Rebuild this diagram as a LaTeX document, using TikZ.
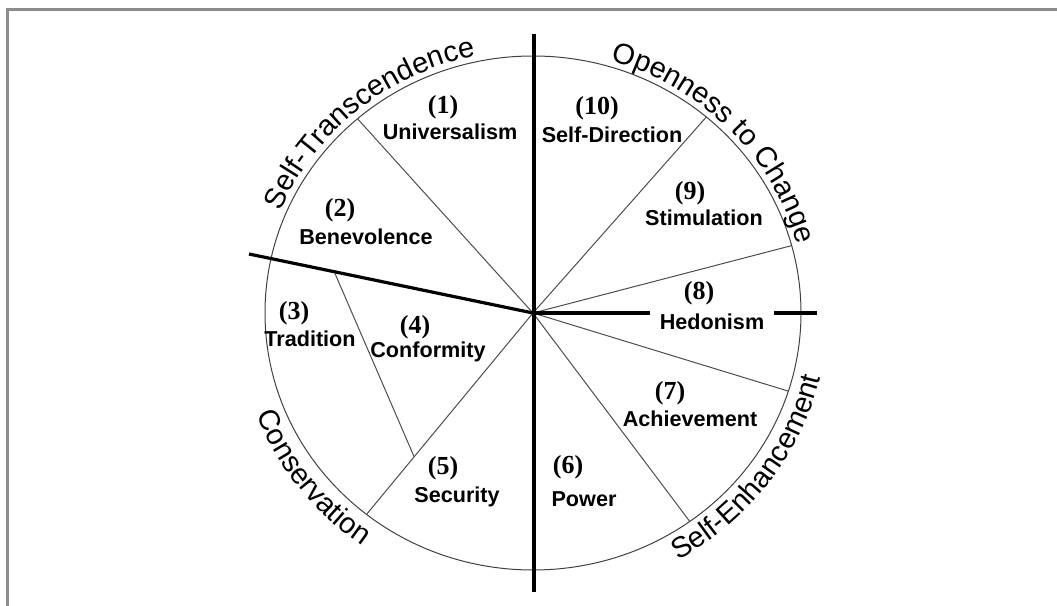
\documentclass[tikz,border=0pt]{standalone}
\usepackage{fontspec}
\setmainfont{Liberation Serif}
\setsansfont{Liberation Sans}
\usetikzlibrary{calc,decorations.text}
\newcommand{\valuefont}{\sffamily\bfseries\fontsize{10.8}{12}\selectfont}
\newcommand{\numfont}{\rmfamily\bfseries\fontsize{13}{15}\selectfont}
\newcommand{\groupfont}{\sffamily\fontsize{14.5}{16}\selectfont}
\tikzset{
	value/.style={font=\valuefont, inner sep=1pt},
	num/.style={font=\numfont, inner sep=1pt},
	sector/.style={draw=black!70, line width=0.5pt},
	divider/.style={draw=black, line width=1.6pt},
	group/.style={decorate, decoration={text along path, text align=center, text={|\groupfont|#1}}},
}

\begin{document}
\begin{tikzpicture}
	[x=0.5pt, y=0.5pt]
	\useasboundingbox (0,0) rectangle (1057,606);
	\draw[black!45, line width=1.2pt] (7.5,0) -- (7.5,596.5) -- (1057,596.5);
	\coordinate (C) at (533,293);
	\coordinate (top) at (534,572);
	\coordinate (bot) at (534,14);
	\coordinate (wl) at (249,352);
	\coordinate (e8) at (817,293);
	\draw[black!75, line width=0.5pt] (C) ellipse[x radius=268, y radius=257];
	\foreach \a/\n in {130.9/b12, 231.6/b45, 49.7/b910, 15.2/b89, -17.7/b78, -54.2/b67}
		\path (C) ++(\a:268 and 257) coordinate (\n);
	\foreach \n in {b12, b45, b910, b89, b78, b67}
		\draw[sector] (C) -- (\n);
	\draw[sector] ($(C)!0.70!(wl)$) -- ($(C)!0.714!(b45)$);
	\node[num] (n1) at (443,499) {(1)};
	\node[value] (v1) at (450,474) {Universalism};
	\node[num] (n2) at (340,396) {(2)};
	\node[value] (v2) at (366,369) {Benevolence};
	\node[num] (n3) at (294,293) {(3)};
	\node[value] (v3) at (310,267) {Tradition};
	\node[num] (n4) at (415,279) {(4)};
	\node[value] (v4) at (428,254) {Conformity};
	\node[num] (n5) at (443,138) {(5)};
	\node[value] (v5) at (457,109) {Security};
	\node[num] (n6) at (568,139) {(6)};
	\node[value] (v6) at (584,107) {Power};
	\node[num] (n7) at (670,213) {(7)};
	\node[value] (v7) at (690,187) {Achievement};
	\node[num] (n8) at (699,313) {(8)};
	\node[value, inner xsep=4.5pt] (v8) at (712,284) {Hedonism};
	\node[num] (n9) at (690,413) {(9)};
	\node[value] (v9) at (704,388) {Stimulation};
	\node[num] (n10) at (597,498) {(10)};
	\node[value] (v10) at (612,471) {Self-Direction};
	\draw[divider] (top) -- (bot);
	\draw[divider] (wl) -- (C);
	\draw[divider] (C) -- (C -| v8.west);
	\draw[divider] (C -| v8.east) -- (e8);
	\path[group=Self-Transcendence] (C) ++(175:274 and 263) arc[start angle=175, end angle=85, x radius=274, y radius=263];
	\path[group=Openness to Change] (C) ++(89:274 and 263) arc[start angle=89, end angle=-1, x radius=274, y radius=263];
	\path[group=Conservation] (C) ++(172.4:296 and 285) arc[start angle=172.4, end angle=262.4, x radius=296, y radius=285];
	\path[group=Self-Enhancement] (C) ++(-81.5:295 and 284) arc[start angle=-81.5, end angle=8.5, x radius=295, y radius=284];
\end{tikzpicture}
\end{document}
